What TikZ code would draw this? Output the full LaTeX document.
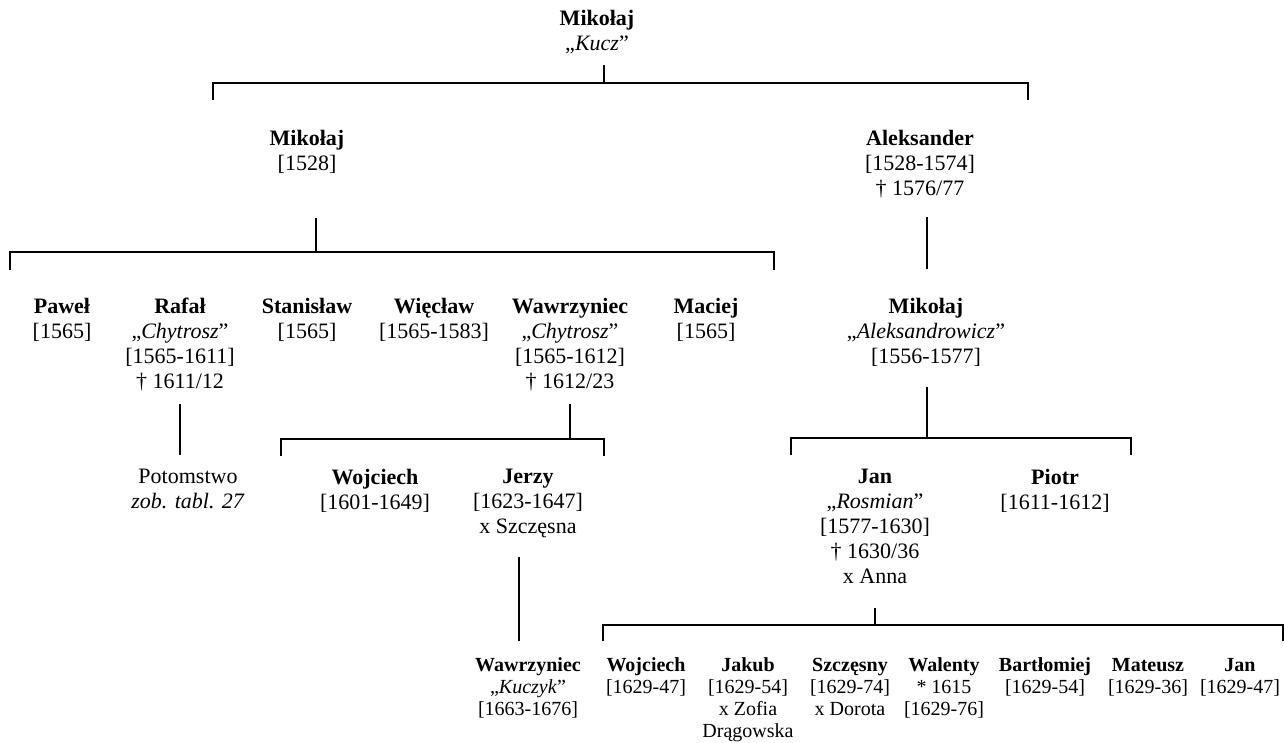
\documentclass[tikz,border=0pt]{standalone}
\usepackage{fontspec}
\setmainfont{Liberation Serif}
\usetikzlibrary{positioning}
\tikzset{%
    person/.style={%
        align=center,
        anchor=north,
        inner sep = 0pt,
        outer sep = 0pt,
        font=\fontsize{11}{12.5}\selectfont
    },
    grandchild/.style={%
        person,
        font=\fontsize{10}{11}\selectfont
    },
    branch/.style={%
        draw,
        line width=0.75pt
    },
}

\begin{document}
\begin{tikzpicture}[x=0.5pt, y=-0.5pt]
    \useasboundingbox (0,0) rectangle (1284,743);

    % first generations
    \node[person] (mik-kucz) at (597,10) {\textbf{Mikołaj}\\„\textit{Kucz}”};
    \node[person] (mik-1528) at (307,130) {\textbf{Mikołaj}\\{[1528]}};
    \node[person] (aleksander) at (920,130) {\textbf{Aleksander}\\{[1528-1574]}\\† 1576/77};

    % sons of Mikolaj
    \node[person] (pawel) at (62,298) {\textbf{Paweł}\\{[1565]}};
    \node[person] (rafal) at (180,298) {\textbf{Rafał}\\„\textit{Chytrosz}”\\{[1565-1611]}\\† 1611/12};
    \node[person] (stanislaw) at (307,298) {\textbf{Stanisław}\\{[1565]}};
    \node[person] (wieclaw) at (434,298) {\textbf{Więcław}\\{[1565-1583]}};
    \node[person] (wawrz-1) at (570,298) {\textbf{Wawrzyniec}\\„\textit{Chytrosz}”\\{[1565-1612]}\\† 1612/23};
    \node[person] (maciej) at (706,298) {\textbf{Maciej}\\{[1565]}};
    \node[person] (mik-aleks) at (926,298) {\textbf{Mikołaj}\\„\textit{Aleksandrowicz}”\\{[1556-1577]}};

    % next generation
    \node[person] (potomstwo) at (188,469) {Potomstwo\\\textit{zob. tabl. 27}};
    \node[person] (wojciech-1) at (375,469) {\textbf{Wojciech}\\{[1601-1649]}};
    \node[person] (jerzy) at (528,469) {\textbf{Jerzy}\\{[1623-1647]}\\x Szczęsna};
    \node[person] (jan-1) at (875,469) {\textbf{Jan}\\„\textit{Rosmian}”\\{[1577-1630]}\\† 1630/36\\x Anna};
    \node[person] (piotr) at (1055,469) {\textbf{Piotr}\\{[1611-1612]}};

    % last row
    \node[grandchild] (wawrz-2) at (528,658) {\textbf{Wawrzyniec}\\„\textit{Kuczyk}”\\{[1663-1676]}};
    \node[grandchild] (wojciech-2) at (646,658) {\textbf{Wojciech}\\{[1629-47]}};
    \node[grandchild] (jakub) at (748,658) {\textbf{Jakub}\\{[1629-54]}\\x Zofia\\Drągowska};
    \node[grandchild] (szczesny) at (850,658) {\textbf{Szczęsny}\\{[1629-74]}\\x Dorota};
    \node[grandchild] (walenty) at (944,658) {\textbf{Walenty}\\* 1615\\{[1629-76]}};
    \node[grandchild] (bartlomiej) at (1045,658) {\textbf{Bartłomiej}\\{[1629-54]}};
    \node[grandchild] (mateusz) at (1148,658) {\textbf{Mateusz}\\{[1629-36]}};
    \node[grandchild] (jan-2) at (1240,658) {\textbf{Jan}\\{[1629-47]}};

    % stems, bars and drops
    \coordinate (kucz-stem) at (604,65);
    \coordinate (kucz-bar) at (604,83);
    \coordinate (kucz-l) at (213,100);
    \coordinate (kucz-r) at (1028,100);
    \draw[branch] (kucz-stem) -- (kucz-bar);
    \draw[branch] (kucz-l) |- (kucz-bar) -| (kucz-r);

    \coordinate (m1528-stem) at (316,218);
    \coordinate (m1528-bar) at (316,252);
    \coordinate (m1528-l) at (10,270);
    \coordinate (m1528-r) at (774,270);
    \draw[branch] (m1528-stem) -- (m1528-bar);
    \draw[branch] (m1528-l) |- (m1528-bar) -| (m1528-r);

    \coordinate (aleks-stem) at (927,217);
    \coordinate (aleks-end) at (927,269);
    \draw[branch] (aleks-stem) -- (aleks-end);

    \coordinate (rafal-stem) at (180,404);
    \coordinate (rafal-end) at (180,455);
    \draw[branch] (rafal-stem) -- (rafal-end);

    \coordinate (wawrz-stem) at (570,404);
    \coordinate (wawrz-bar) at (570,439);
    \coordinate (wawrz-l) at (281,456);
    \coordinate (wawrz-r) at (604,456);
    \draw[branch] (wawrz-stem) -- (wawrz-bar);
    \draw[branch] (wawrz-l) |- (wawrz-bar) -| (wawrz-r);

    \coordinate (maleks-stem) at (927,387);
    \coordinate (maleks-bar) at (927,438);
    \coordinate (maleks-l) at (791,455);
    \coordinate (maleks-r) at (1131,455);
    \draw[branch] (maleks-stem) -- (maleks-bar);
    \draw[branch] (maleks-l) |- (maleks-bar) -| (maleks-r);

    \coordinate (jerzy-stem) at (519,557);
    \coordinate (jerzy-end) at (519,641);
    \draw[branch] (jerzy-stem) -- (jerzy-end);

    \coordinate (jan-stem) at (875,608);
    \coordinate (jan-bar) at (875,625);
    \coordinate (jan-l) at (603,641);
    \coordinate (jan-r) at (1283,641);
    \draw[branch] (jan-stem) -- (jan-bar);
    \draw[branch] (jan-l) |- (jan-bar) -| (jan-r);
\end{tikzpicture}
\end{document}
